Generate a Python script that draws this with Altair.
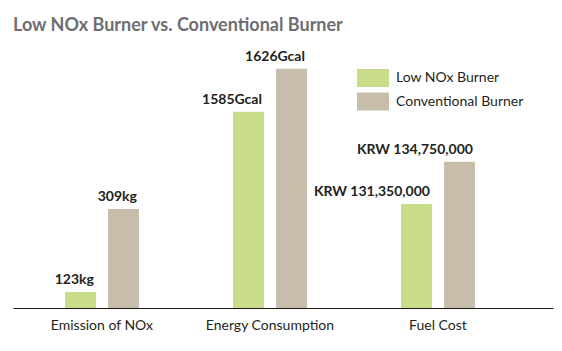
import altair as alt
import pandas as pd

categories = ["Emission of NOx", "Energy Consumption", "Fuel Cost"]
series = ["Low NOx Burner", "Conventional Burner"]
low_values = [123, 1585, 131350000]
conv_values = [309, 1626, 134750000]
low_labels = ["123kg", "1585Gcal", "KRW 131,350,000"]
conv_labels = ["309kg", "1626Gcal", "KRW 134,750,000"]
# relative bar heights as drawn in the picture (tallest bar = 100)
low_bar_index = [6.7, 82.0, 43.5]
conv_bar_index = [41.4, 100.0, 61.1]
colors = ["#c9dc8a", "#c8bdaa"]

rows = []
for i, c in enumerate(categories):
    rows.append({"category": c, "series": series[0], "value": low_values[i],
                 "label": low_labels[i], "height": low_bar_index[i]})
    rows.append({"category": c, "series": series[1], "value": conv_values[i],
                 "label": conv_labels[i], "height": conv_bar_index[i]})
df = pd.DataFrame(rows)

FONT = "Lato"
DARK = "#231f20"

x = alt.X("category:N", sort=categories, title=None,
          scale=alt.Scale(paddingInner=0.3036, paddingOuter=0.259, align=0.35),
          axis=alt.Axis(labelAngle=0, ticks=False, labelPadding=10, domainColor="#231815",
                        domainWidth=1.2, labelFont=FONT, labelFontSize=14, labelColor=DARK,
                        grid=False))
xoff = alt.XOffset("series:N", sort=series,
                   scale=alt.Scale(paddingInner=0.279, paddingOuter=0.5))
y = alt.Y("height:Q", axis=None, scale=alt.Scale(domain=[0, 112]))

base = alt.Chart(df).encode(x=x, xOffset=xoff, y=y)

bars = base.mark_bar().encode(
    color=alt.Color("series:N", sort=series,
                    scale=alt.Scale(domain=series, range=colors),
                    legend=alt.Legend(title=None, orient="none", legendX=351, legendY=29,
                                      symbolType="M-1.778,-1H1.778V1H-1.778Z",
                                      symbolSize=324, symbolStrokeWidth=0,
                                      symbolOpacity=1, labelOffset=14, rowPadding=5.5,
                                      padding=0, labelFont=FONT, labelFontSize=14,
                                      labelColor=DARK))
)

text = base.mark_text(align="right", baseline="alphabetic", dx=13.5, dy=-8,
                      font=FONT, fontSize=14, fontWeight="bold", color=DARK).encode(
    text="label:N"
)

chart = (bars + text).properties(
    width=540, height=268,
    title=alt.TitleParams("Low NOx Burner vs. Conventional Burner", anchor="start",
                          frame="group", font=FONT, fontSize=18, fontWeight="bold",
                          color="#6d6e71", baseline="alphabetic", offset=8, dy=17),
    autosize=alt.AutoSizeParams(type="none"),
    padding={"left": 13, "top": 40, "right": 9, "bottom": 43},
).configure_view(stroke=None)

chart.save("out.html", embed_options={"renderer": "svg", "actions": False})
